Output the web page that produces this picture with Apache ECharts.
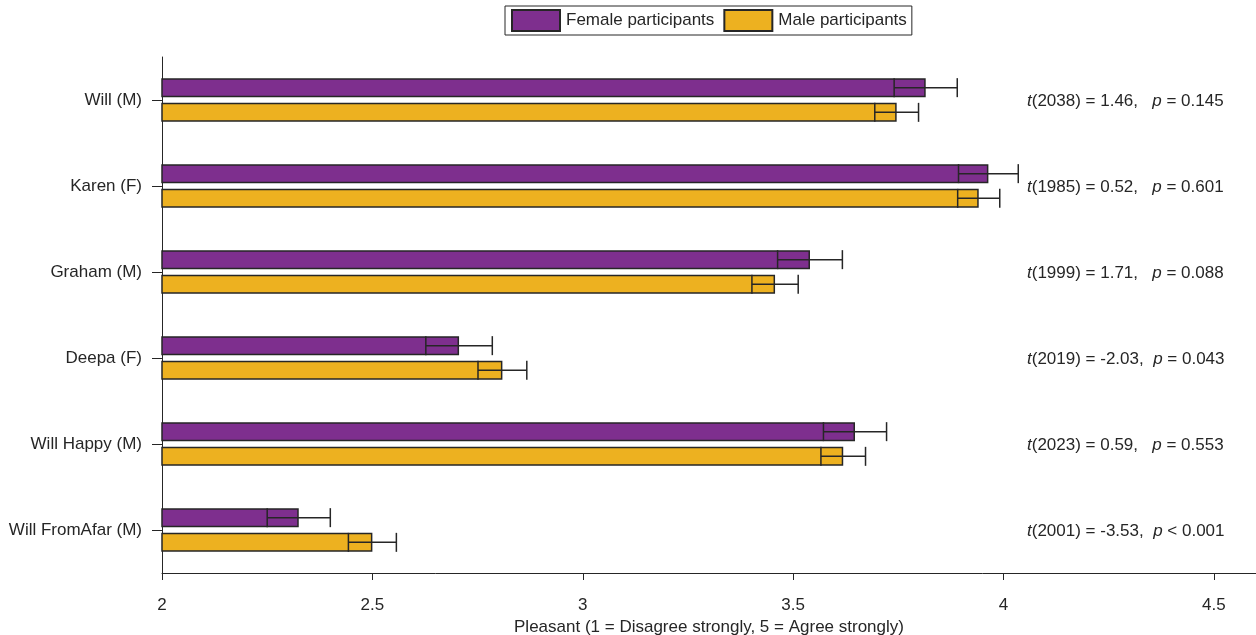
<!DOCTYPE html>
<html>
<head>
<meta charset="utf-8">
<title>Pleasantness ratings by participant gender</title>
<script src="https://cdn.jsdelivr.net/npm/echarts@6/dist/echarts.min.js"></script>
<style>
  html, body { margin: 0; padding: 0; background: #ffffff; }
  #chart { width: 1256px; height: 635px; }
</style>
</head>
<body>
<div id="chart"></div>
<script>
// Voices rated, top to bottom
const categories = ['Will (M)', 'Karen (F)', 'Graham (M)', 'Deepa (F)', 'Will Happy (M)', 'Will FromAfar (M)'];

// Mean "Pleasant" rating and confidence half-width per voice
const femaleMean = [3.815, 3.964, 3.540, 2.706, 3.647, 2.325];
const femaleCI   = [0.075, 0.071, 0.077, 0.079, 0.075, 0.075];
const maleMean   = [3.746, 3.941, 3.457, 2.809, 3.619, 2.500];
const maleCI     = [0.052, 0.050, 0.055, 0.058, 0.053, 0.057];

// Independent-samples t-test per voice
const tDf   = [2038, 1985, 1999, 2019, 2023, 2001];
const tVal  = ['1.46', '0.52', '1.71', '-2.03', '0.59', '-3.53'];
const pText = ['= 0.145', '= 0.601', '= 0.088', '= 0.043', '= 0.553', '< 0.001'];

// Axis ticks
const xTicks = [2, 2.5, 3, 3.5, 4, 4.5];

const FONT = '"Liberation Sans", Arial, Helvetica, sans-serif';
const INK = '#262626';
const PURPLE = '#7E2F8E';
const GOLD = '#EDB120';
const BAR_W = 19;
const GAP_RATIO = 0.3;
const HALF_OFFSET = BAR_W / 2 + (BAR_W * GAP_RATIO) / 2;
const STATS_X = 1027;

function errorBarSeries(name, means, cis, offset) {
  return {
    name: name + ' CI',
    type: 'custom',
    silent: true,
    z: 5,
    encode: { x: [0, 1], y: 2 },
    data: means.map((m, i) => [m - cis[i], m + cis[i], i]),
    renderItem: function (params, api) {
      const idx = api.value(2);
      const lo = api.coord([api.value(0), idx]);
      const hi = api.coord([api.value(1), idx]);
      const y = lo[1] + offset;
      const h = BAR_W / 2;
      const st = { stroke: INK, lineWidth: 1.5 };
      return {
        type: 'group',
        children: [
          { type: 'line', shape: { x1: lo[0], y1: y, x2: hi[0], y2: y }, style: st },
          { type: 'line', shape: { x1: lo[0], y1: y - h, x2: lo[0], y2: y + h }, style: st },
          { type: 'line', shape: { x1: hi[0], y1: y - h, x2: hi[0], y2: y + h }, style: st }
        ]
      };
    }
  };
}

const chart = echarts.init(document.getElementById('chart'), null, { renderer: 'canvas' });

chart.setOption({
  animation: false,
  backgroundColor: '#ffffff',
  textStyle: { fontFamily: FONT },
  legend: {
    data: ['Female participants', 'Male participants'],
    left: 505,
    top: 6,
    padding: [3, 5, 3, 6],
    itemGap: 9,
    itemWidth: 48,
    itemHeight: 21,
    icon: 'rect',
    borderColor: INK,
    borderWidth: 1,
    textStyle: { fontFamily: FONT, fontSize: 17, color: INK, padding: [0, 0, 0, 1] }
  },
  grid: { left: 162, right: 0, top: 57, bottom: 62, containLabel: false, outerBoundsMode: 'none' },
  xAxis: {
    type: 'value',
    min: 2,
    max: 4.6,
    interval: 0.5,
    name: 'Pleasant (1 = Disagree strongly, 5 = Agree strongly)',
    nameLocation: 'middle',
    nameGap: 39,
    nameTextStyle: { fontFamily: FONT, fontSize: 17, color: INK },
    axisLine: { show: true, lineStyle: { color: INK, width: 1 } },
    axisTick: { show: true, length: 7, lineStyle: { color: INK }, customValues: xTicks },
    axisLabel: { fontFamily: FONT, fontSize: 17, color: INK, margin: 24, customValues: xTicks },
    splitLine: { show: false }
  },
  yAxis: {
    type: 'category',
    data: categories,
    inverse: true,
    axisLine: { show: true, lineStyle: { color: INK, width: 1 } },
    axisTick: { show: true, length: 10, alignWithLabel: true, lineStyle: { color: INK } },
    axisLabel: { fontFamily: FONT, fontSize: 17, color: INK, margin: 20 },
    splitLine: { show: false }
  },
  series: [
    {
      name: 'Female participants',
      type: 'bar',
      data: femaleMean,
      barWidth: BAR_W,
      barGap: (GAP_RATIO * 100) + '%',
      itemStyle: { color: PURPLE, borderColor: INK, borderWidth: 1.5 }
    },
    {
      name: 'Male participants',
      type: 'bar',
      data: maleMean,
      barWidth: BAR_W,
      barGap: (GAP_RATIO * 100) + '%',
      itemStyle: { color: GOLD, borderColor: INK, borderWidth: 1.5 }
    },
    errorBarSeries('Female participants', femaleMean, femaleCI, -HALF_OFFSET),
    errorBarSeries('Male participants', maleMean, maleCI, HALF_OFFSET),
    {
      name: 't-test',
      type: 'custom',
      silent: true,
      encode: { y: 0 },
      data: categories.map((c, i) => [i]),
      renderItem: function (params, api) {
        const i = api.value(0);
        const y = api.coord([2, i])[1] + 1.5;
        const neg = tVal[i].charAt(0) === '-';
        const txt = '{i|t}(' + tDf[i] + ') = ' + tVal[i] + ',' + (neg ? '  ' : '   ') + '{i|p} ' + pText[i];
        return {
          type: 'text',
          x: STATS_X,
          y: y,
          style: {
            text: txt,
            fontFamily: FONT,
            fontSize: 17,
            fill: INK,
            verticalAlign: 'middle',
            align: 'left',
            rich: {
              i: { fontFamily: FONT, fontSize: 17, fontStyle: 'italic', fill: INK, color: INK }
            }
          }
        };
      }
    }
  ]
});
</script>
</body>
</html>
